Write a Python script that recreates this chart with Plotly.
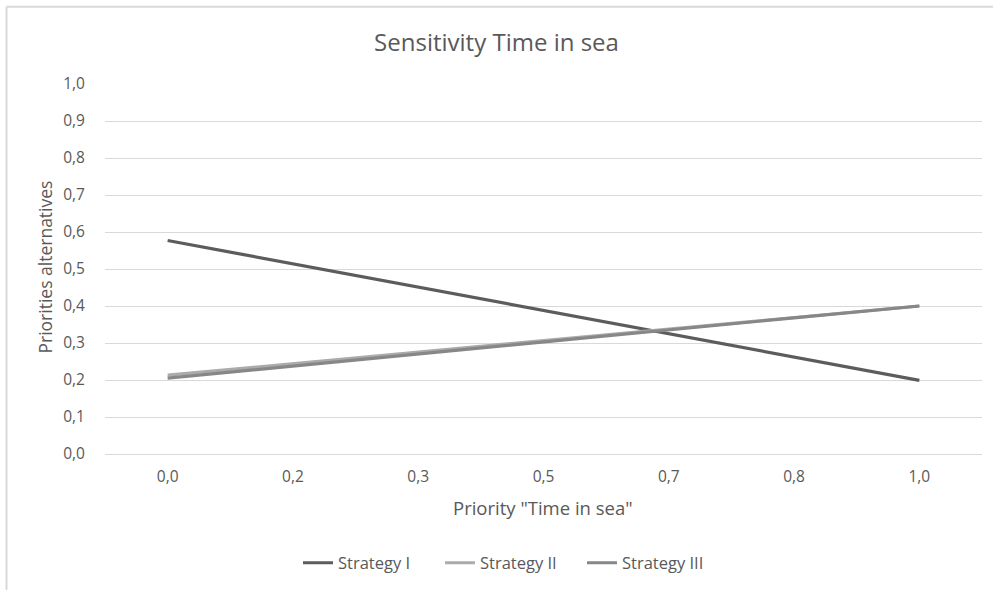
import plotly.graph_objects as go

categories = ["0,0", "0,2", "0,3", "0,5", "0,7", "0,8", "1,0"]
strategy_1 = [0.577, 0.514, 0.451, 0.388, 0.325, 0.262, 0.199]
strategy_2 = [0.213, 0.244, 0.275, 0.306, 0.338, 0.369, 0.400]
strategy_3 = [0.205, 0.238, 0.270, 0.303, 0.335, 0.368, 0.400]
series_names = ["Strategy I", "Strategy II", "Strategy III"]
y_ticks = [i / 10 for i in range(11)]
y_tick_labels = [f"{v:.1f}".replace(".", ",") for v in y_ticks]

colors = ["#5c5c5c", "#ababab", "#878787"]
FONT = "Open Sans"
W, H = 993, 590
L, R, T, B = 105, 11, 84, 135
pw, ph = W - L - R, H - T - B

fig = go.Figure()
for name, vals, c in zip(series_names, [strategy_1, strategy_2, strategy_3], colors):
    fig.add_trace(go.Scatter(x=categories, y=vals, mode="lines", name=name,
                             line=dict(color=c, width=3.2)))

def px_x(x):
    return (x - L) / pw

def px_y(y):
    return (H - B - y) / ph

fig.update_layout(
    width=W, height=H,
    margin=dict(l=L, r=R, t=T, b=B),
    paper_bgcolor="white", plot_bgcolor="white",
    font=dict(family=FONT, color="#595959", size=15),
    title=dict(text="Sensitivity Time in sea", x=0.5, xanchor="center",
               y=1 - 43 / H, yanchor="middle",
               font=dict(size=24, color="#595959", family=FONT)),
    showlegend=True,
    legend=dict(orientation="h", x=px_x(298), xanchor="left",
                y=px_y(563), yanchor="middle",
                font=dict(size=16.5, color="#595959"),
                itemwidth=30, entrywidth=97, entrywidthmode="pixels",
                tracegroupgap=0, bgcolor="rgba(0,0,0,0)"),
    xaxis=dict(type="category", showgrid=False, showline=False, zeroline=False,
               ticks="outside", ticklen=8, tickcolor="rgba(0,0,0,0)",
               tickfont=dict(size=15.5, color="#595959"),
               range=[-0.5, 6.5]),
    yaxis=dict(range=[0, 1.0], tickvals=y_ticks, ticktext=y_tick_labels,
               showgrid=True, gridcolor="#d9d9d9", gridwidth=1.3,
               zeroline=True, zerolinecolor="#d9d9d9", zerolinewidth=1.3,
               showline=False, ticks="outside", ticklen=16,
               tickcolor="rgba(0,0,0,0)",
               tickfont=dict(size=15.5, color="#595959")),
    annotations=[
        dict(text='Priority "Time in sea"', xref="paper", yref="paper",
             x=px_x(543), y=px_y(509), xanchor="center", yanchor="middle",
             showarrow=False, font=dict(size=18.5, color="#595959")),
        dict(text="Priorities alternatives", xref="paper", yref="paper",
             x=px_x(45), y=px_y(268), xanchor="center", yanchor="middle",
             textangle=-90, showarrow=False, font=dict(size=17.5, color="#595959")),
    ],
    shapes=[
        dict(type="line", xref="paper", yref="paper",
             x0=px_x(6.5), x1=px_x(W + 5), y0=px_y(6.5), y1=px_y(6.5),
             line=dict(color="#d9d9d9", width=2)),
        dict(type="line", xref="paper", yref="paper",
             x0=px_x(6.5), x1=px_x(6.5), y0=px_y(6.5), y1=px_y(H + 5),
             line=dict(color="#d9d9d9", width=2)),
    ],
)

fig.write_html("out.html")
